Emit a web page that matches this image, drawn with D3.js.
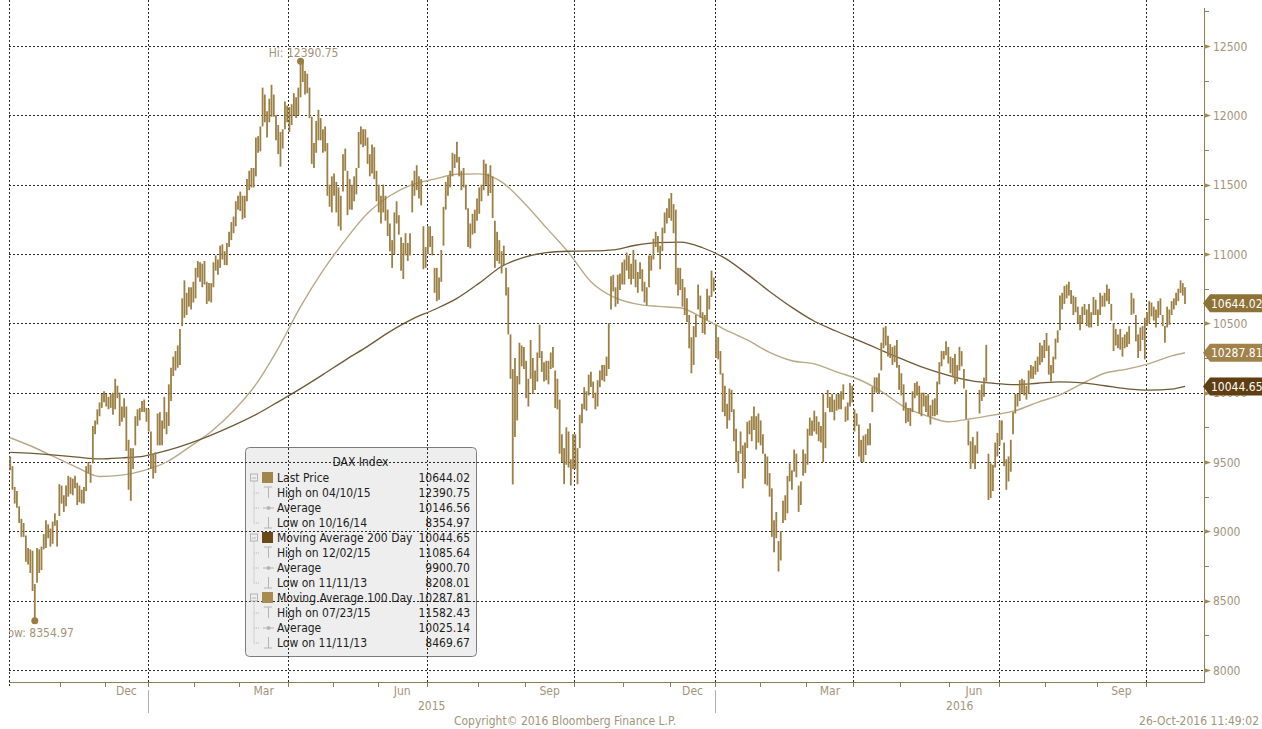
<!DOCTYPE html>
<html><head><meta charset="utf-8">
<script src="https://cdn.jsdelivr.net/npm/d3@7"></script>
<style>
body{margin:0;background:#fff;}
svg{display:block;}
text{font-family:"DejaVu Sans Condensed","DejaVu Sans",sans-serif;}
</style>
</head><body>
<svg id="c" width="1262" height="729"></svg>
<script>
// ---------------- DATA ----------------
const firstDay = "2014-10-01", lastDay = "2016-10-26";
const holidays = ["2014-12-24","2014-12-25","2014-12-26","2014-12-31","2015-01-01","2015-04-03","2015-04-06","2015-05-01","2015-12-24","2015-12-25","2015-12-31","2016-01-01","2016-03-25","2016-03-28"];

// daily [high, low] of DAX Index, one pair per trading day
const dailyRanges = [
// Oct 2014
[9540,9440],[9470,9300],[9320,9200],[9290,9170],[9180,9060],[9090,8960],[9060,8960],[8970,8780],[8880,8760],[8870,8700],[8860,8570],[8620,8354.97],[8880,8630],[8870,8700],[8890,8720],[8980,8870],[9080,8880],[9050,8950],[9020,8890],[9070,8910],[9130,9040],[9080,8890],[9340,9110],
// Nov 2014
[9330,9200],[9260,9140],[9330,9180],[9400,9250],[9390,9270],[9380,9260],[9400,9310],[9350,9190],[9330,9210],[9300,9200],[9320,9200],[9470,9290],[9500,9420],[9480,9350],[9760,9490],[9800,9700],[9880,9770],[9930,9830],[9990,9890],[10010,9930],
// Dec 2014
[9990,9900],[9970,9880],[9990,9890],[10000,9840],[10100,9880],[10050,9960],[10000,9760],[9900,9790],[9960,9820],[9900,9580],[9660,9300],[9600,9220],[9600,9450],[9830,9620],[9880,9760],[9890,9800],[9940,9860],[9950,9860],[9890,9790],
// Jan 2015
[9880,9720],[9720,9450],[9560,9380],[9570,9420],[9850,9620],[9860,9620],[9800,9620],[9970,9740],[9860,9700],[10060,9760],[10180,9940],[10260,10120],[10300,10160],[10340,10180],[10460,10200],[10680,10480],[10810,10540],[10720,10560],[10760,10620],[10760,10600],[10800,10650],
// Feb 2015
[10900,10680],[10950,10830],[10940,10800],[10930,10760],[10950,10780],[10800,10640],[10790,10660],[10790,10650],[10940,10760],[10990,10880],[10960,10850],[11060,10900],[11070,10960],[11020,10920],[11080,10920],[11160,11050],[11230,11100],[11270,11150],[11380,11200],[11420,11320],
// Mar 2015
[11450,11310],[11420,11250],[11420,11260],[11540,11380],[11600,11460],[11620,11480],[11620,11480],[11840,11560],[11850,11730],[11920,11740],[12200,11920],[12150,11950],[12030,11840],[12120,11950],[12220,11990],[12150,11990],[12000,11820],[11930,11720],[11880,11630],[11900,11760],[12100,11900],[12070,11950],
// Apr 2015
[12060,11880],[12080,11930],[12160,12000],[12130,11980],[12200,12000],[12390.75,12130],[12380,12240],[12320,12150],[12300,12160],[12200,11980],[11990,11650],[11800,11620],[11960,11730],[12040,11820],[11980,11820],[11900,11730],[11920,11740],[11800,11420],[11500,11340],[11560,11300],
// May 2015
[11580,11420],[11520,11300],[11480,11200],[11420,11170],[11720,11450],[11760,11600],[11600,11280],[11540,11320],[11500,11320],[11560,11380],[11620,11430],[11880,11620],[11920,11790],[11900,11770],[11900,11780],[11840,11650],[11720,11560],[11790,11580],[11770,11540],[11600,11380],
// Jun 2015
[11500,11300],[11420,11220],[11500,11300],[11420,11240],[11320,11130],[11220,11020],[11100,10900],[11300,11000],[11380,11220],[11280,11140],[11120,10880],[11080,10820],[11150,10990],[11080,10950],[11150,10990],[11530,11300],[11600,11420],[11640,11460],[11560,11400],[11540,11350],[11200,10890],[11050,10900],
// Jul 2015
[11200,11000],[11200,11050],[11130,10990],[10900,10720],[10900,10660],[10830,10670],[11030,10800],[11340,11060],[11520,11320],[11560,11420],[11600,11480],[11730,11560],[11720,11620],[11810,11660],[11700,11560],[11600,11460],[11620,11480],[11500,11320],[11330,11050],[11220,11040],[11290,11140],[11320,11150],[11400,11240],
// Aug 2015
[11480,11290],[11500,11380],[11680,11460],[11650,11500],[11580,11420],[11640,11440],[11560,11260],[11240,10900],[11160,10950],[11100,10930],[11020,10860],[11060,10920],[10900,10700],[10760,10420],[10420,10100],[10170,9338],[10250,9680],[10120,9800],[10360,10060],[10340,10190],[10330,10170],
// Sep 2015
[10230,9960],[10100,9900],[10380,10100],[10250,9990],[10160,10020],[10290,10080],[10490,10250],[10300,10150],[10220,10080],[10230,10090],[10230,10060],[10290,10170],[10330,10180],[10160,9890],[10100,9880],[9950,9560],[9700,9500],[9600,9340],[9750,9480],[9720,9460],[9520,9330],[9700,9450],
// Oct 2015
[9700,9450],[9600,9340],[9840,9600],[9920,9780],[10040,9880],[10010,9870],[10130,9980],[10150,10040],[10080,9960],[10000,9880],[10090,9900],[10160,10040],[10200,10090],[10200,10080],[10260,10120],[10500,10170],[10840,10600],[10850,10730],[10760,10620],[10850,10640],[10860,10740],[10940,10780],
// Nov 2015
[10960,10780],[11010,10880],[10990,10820],[10930,10780],[11030,10820],[10960,10760],[10870,10720],[10940,10820],[10890,10730],[10800,10650],[10760,10630],[10990,10760],[10990,10880],[11110,10960],[11160,11050],[11130,11010],[11060,10890],[11190,11020],[11300,11150],[11330,11220],[11400,11260],
// Dec 2015
[11440,11240],[11360,11150],[11320,10780],[10900,10700],[10900,10740],[10820,10620],[10760,10560],[10680,10510],[10560,10320],[10400,10140],[10480,10200],[10560,10400],[10780,10600],[10700,10540],[10580,10430],[10560,10420],[10750,10520],[10700,10600],[10880,10690],[10830,10730],
// Jan 2016
[10490,10250],[10400,10240],[10300,10130],[10140,9860],[10050,9830],[9920,9740],[10030,9800],[10020,9860],[9880,9650],[9740,9500],[9580,9420],[9720,9560],[9620,9310],[9640,9380],[9790,9600],[9800,9700],[9830,9650],[9900,9730],[9830,9590],[9850,9640],
// Feb 2016
[9800,9620],[9700,9560],[9560,9340],[9540,9330],[9420,9250],[9310,8960],[9080,8850],[9140,8950],[8930,8710],[9000,8790],[9220,9060],[9260,9080],[9400,9130],[9490,9360],[9440,9300],[9590,9430],[9560,9390],[9330,9140],[9360,9190],[9590,9400],[9560,9420],
// Mar 2016
[9740,9480],[9820,9690],[9800,9690],[9870,9720],[9830,9700],[9790,9650],[9760,9640],[9990,9500],[9860,9600],[10020,9890],[9970,9860],[9990,9860],[9950,9800],[9990,9870],[9990,9880],[10010,9880],[10060,9950],[9900,9790],[9930,9800],[10070,9900],[10050,9930],
// Apr 2016
[9880,9720],[9850,9760],[9770,9540],[9660,9500],[9690,9500],[9700,9550],[9740,9620],[9780,9620],[10040,9860],[10110,10000],[10110,10000],[10140,9990],[10360,10160],[10470,10320],[10480,10340],[10410,10260],[10350,10250],[10330,10200],[10340,10220],[10380,10180],[10200,10020],
// May 2016
[10140,9980],[10060,9870],[9930,9780],[9890,9790],[9890,9760],[10010,9860],[10070,9960],[10080,9980],[10050,9850],[10000,9830],[10000,9900],[9980,9860],[9990,9830],[9910,9770],[9950,9830],[9960,9830],[10080,9840],[10220,10060],[10300,10190],[10300,10240],[10370,10270],[10330,10210],
// Jun 2016
[10260,10140],[10250,10110],[10280,10060],[10200,10080],[10330,10160],[10300,10190],[10170,10030],[10020,9810],[9800,9620],[9650,9450],[9680,9490],[9620,9450],[9720,9560],[10020,9850],[10060,9940],[10110,9970],[10345,10080],[9560,9226],[9490,9240],[9480,9290],[9640,9460],[9710,9540],
// Jul 2016
[9800,9620],[9800,9660],[9640,9470],[9520,9300],[9540,9360],[9660,9430],[9860,9700],[9990,9850],[9990,9900],[10090,9940],[10100,10000],[10090,9980],[10050,9950],[10160,9990],[10200,10100],[10190,10100],[10230,10130],[10260,10150],[10360,10200],[10340,10220],[10380,10250],
// Aug 2016
[10430,10300],[10340,10130],[10200,10080],[10260,10140],[10390,10240],[10450,10360],[10700,10450],[10720,10600],[10770,10640],[10780,10680],[10800,10700],[10740,10640],[10700,10560],[10690,10580],[10620,10500],[10560,10450],[10620,10500],[10640,10560],[10600,10480],[10640,10470],[10580,10470],[10690,10560],[10670,10560],
// Sep 2016
[10600,10480],[10720,10560],[10700,10620],[10720,10620],[10780,10660],[10750,10640],[10640,10520],[10500,10300],[10460,10340],[10420,10320],[10460,10310],[10400,10260],[10420,10320],[10440,10330],[10480,10350],[10720,10560],[10680,10570],[10560,10370],[10420,10250],[10470,10300],[10480,10380],[10540,10240],
// Oct 2016
[10580,10480],[10660,10500],[10650,10550],[10620,10520],[10600,10470],[10660,10540],[10680,10560],[10560,10480],[10480,10360],[10620,10470],[10600,10490],[10660,10560],[10680,10600],[10720,10630],[10750,10660],[10810,10720],[10790,10700],[10760,10640]
];

// moving averages read every 10th trading day (plus the last day)
const ma200Every10 = [9570,9562,9550,9535,9522,9530,9543,9582,9633,9694,9764,9842,9934,10029,10130,10235,10334,10440,10530,10600,10680,10790,10910,10975,11010,11020,11022,11030,11063,11082,11085,11045,10970,10855,10730,10615,10515,10443,10376,10306,10238,10175,10125,10087,10068,10058,10068,10078,10070,10050,10028,10018,10025,10044.65];
const ma100Every10 = [9675,9610,9535,9460,9395,9405,9440,9500,9605,9720,9870,10060,10320,10620,10880,11100,11293,11420,11500,11540,11575,11578,11520,11370,11190,11010,10800,10690,10640,10622,10612,10540,10455,10380,10290,10230,10208,10150,10095,10010,9900,9835,9790,9812,9838,9870,9930,9984,10065,10140,10170,10210,10265,10287.81];

const yTicks = [8000,8500,9000,9500,10000,10500,11000,11500,12000,12500];
const yMinorTicks = [8250,8750,9250,9750,10250,10750,11250,11750,12250,12750];
const labelledMonths = ["Dec","Mar","Jun","Sep"];
const lastPrice = 10644.02, lastMA200 = 10044.65, lastMA100 = 10287.81;
const hiValue = 12390.75, loValue = 8354.97;

const legendTitle = "DAX Index";
const legendRows = [
  {kind:"series", label:"Last Price", value:"10644.02", color:"#a2854a"},
  {kind:"high", label:"High on 04/10/15", value:"12390.75"},
  {kind:"avg", label:"Average", value:"10146.56"},
  {kind:"low", label:"Low on 10/16/14", value:"8354.97"},
  {kind:"series", label:"Moving Average 200 Day", value:"10044.65", color:"#6b4916"},
  {kind:"high", label:"High on 12/02/15", value:"11085.64"},
  {kind:"avg", label:"Average", value:"9900.70"},
  {kind:"low", label:"Low on 11/11/13", value:"8208.01"},
  {kind:"series", label:"Moving Average 100 Day", value:"10287.81", color:"#a88b4e"},
  {kind:"high", label:"High on 07/23/15", value:"11582.43"},
  {kind:"avg", label:"Average", value:"10025.14"},
  {kind:"low", label:"Low on 11/11/13", value:"8469.67"}
];
const copyrightText = "Copyright\u00a9 2016 Bloomberg Finance L.P.";
const stampText = "26-Oct-2016 11:49:02";

// ---------------- BUILD ----------------
const hol = new Set(holidays);
const dates = [];
{
  const end = new Date(lastDay + "T00:00:00Z");
  for (let d = new Date(firstDay + "T00:00:00Z"); d <= end; d.setUTCDate(d.getUTCDate() + 1)) {
    const wd = d.getUTCDay();
    if (wd === 0 || wd === 6) continue;
    const s = d.toISOString().slice(0, 10);
    if (hol.has(s)) continue;
    dates.push(new Date(d));
  }
}
const bars = dailyRanges.map((r, i) => ({i, date: dates[i], high: r[0], low: r[1]}));
const nLast = bars.length - 1;
const maIdx = k => Math.min(k * 10, nLast);
const ma200 = ma200Every10.map((v, k) => ({i: maIdx(k), v}));
const ma100 = ma100Every10.map((v, k) => ({i: maIdx(k), v}));

const svg = d3.select("#c");
const plotL = 9, plotR = 1204, plotT = 8, plotB = 682;
const x = d3.scaleLinear().domain([-0.5, 534.5]).range([plotL + 0.1, plotR]);
const y = d3.scaleLinear().domain([8000, 12500]).range([670, 46]);

const axisCol = "#8e7d55", labelCol = "#a39479", barCol = "#9c7f44";

svg.append("defs").append("clipPath").attr("id", "plotclip")
  .append("rect").attr("x", plotL).attr("y", 0).attr("width", plotR - plotL).attr("height", plotB);

// month structure
const months = [];
bars.forEach((b, i) => {
  if (i === 0 || b.date.getUTCMonth() !== bars[i - 1].date.getUTCMonth()) months.push({start: i, end: i, date: b.date});
  else months[months.length - 1].end = i;
});
const fmtMon = d3.utcFormat("%b");

// legend background (gridlines will be seen over it)
const LX = 245, LY = 447, LW = 231, LH = 209;
svg.append("rect").attr("x", LX + 0.5).attr("y", LY + 0.5).attr("width", LW).attr("height", LH)
  .attr("rx", 4).attr("fill", "#eeeeee").attr("stroke", "#7d7d7d").attr("stroke-width", 1);

// grid
const grid = svg.append("g");
grid.selectAll("line.h").data(yTicks).join("line")
  .attr("x1", plotL).attr("x2", plotR)
  .attr("y1", d => Math.round(y(d)) + 0.5).attr("y2", d => Math.round(y(d)) + 0.5)
  .attr("stroke", "#2a2a2a").attr("stroke-width", 1).attr("stroke-dasharray", "2,2");
const quarterStarts = months.filter(m => m.date.getUTCMonth() % 3 === 0);
grid.selectAll("line.v").data(quarterStarts).join("line")
  .attr("x1", d => Math.round(x(d.start - 0.5)) + 0.5).attr("x2", d => Math.round(x(d.start - 0.5)) + 0.5)
  .attr("y1", 0).attr("y2", plotB + 6)
  .attr("stroke", "#2a2a2a").attr("stroke-width", 1).attr("stroke-dasharray", "2,2");

// plot content
const plot = svg.append("g").attr("clip-path", "url(#plotclip)");
const line = d3.line().x(d => x(d.i)).y(d => y(d.v)).curve(d3.curveMonotoneX);
plot.append("path").datum(ma100).attr("d", line).attr("fill", "none").attr("stroke", "#b9a988").attr("stroke-width", 1.4);
plot.append("path").datum(ma200).attr("d", line).attr("fill", "none").attr("stroke", "#6e5a37").attr("stroke-width", 1.3);
plot.selectAll("line.bar").data(bars).join("line")
  .attr("x1", d => x(d.i)).attr("x2", d => x(d.i))
  .attr("y1", d => y(d.high)).attr("y2", d => y(d.low))
  .attr("stroke", barCol).attr("stroke-width", 1.8);

// hi / low markers
const hiBar = bars.reduce((a, b) => b.high > a.high ? b : a);
const loBar = bars.reduce((a, b) => b.low < a.low ? b : a);
plot.append("circle").attr("cx", x(hiBar.i)).attr("cy", y(hiValue)).attr("r", 3.5).attr("fill", "#9a7c42");
plot.append("circle").attr("cx", x(loBar.i)).attr("cy", y(loValue)).attr("r", 3.5).attr("fill", "#9a7c42");
plot.append("text").attr("x", x(hiBar.i) + 3).attr("y", y(hiValue) - 4).attr("text-anchor", "middle")
  .attr("font-size", 12).attr("fill", labelCol).text("Hi: " + d3.format(".2f")(hiValue));
plot.append("text").attr("x", x(loBar.i) + 3).attr("y", y(loValue) + 16).attr("text-anchor", "middle")
  .attr("font-size", 12).attr("fill", labelCol).text("Low: " + d3.format(".2f")(loValue));

// bottom axis
const bx = svg.append("g");
bx.append("line").attr("x1", plotL).attr("x2", plotR).attr("y1", plotB + 0.5).attr("y2", plotB + 0.5).attr("stroke", axisCol);
bx.selectAll("line.mt").data(months.filter(m => m.start > 0)).join("line")
  .attr("x1", d => Math.round(x(d.start - 0.5)) + 0.5).attr("x2", d => Math.round(x(d.start - 0.5)) + 0.5)
  .attr("y1", plotB).attr("y2", plotB + 5).attr("stroke", axisCol);
bx.selectAll("text.m").data(months.filter(m => labelledMonths.includes(fmtMon(m.date)))).join("text")
  .attr("x", d => x((d.start + d.end) / 2)).attr("y", 695).attr("text-anchor", "middle")
  .attr("font-size", 12).attr("fill", labelCol).text(d => fmtMon(d.date));
const yearStarts = months.filter(m => m.date.getUTCMonth() === 0);
yearStarts.forEach((m, k) => {
  const xs = Math.round(x(m.start - 0.5)) + 0.5;
  const xe = k + 1 < yearStarts.length ? x(yearStarts[k + 1].start - 0.5) : plotR;
  bx.append("line").attr("x1", xs).attr("x2", xs).attr("y1", 690).attr("y2", 713).attr("stroke", "#b0b0b0");
  bx.append("text").attr("x", (xs + xe) / 2).attr("y", 710).attr("text-anchor", "middle")
    .attr("font-size", 12).attr("fill", labelCol).text(m.date.getUTCFullYear());
});

// right axis
const ry = svg.append("g");
ry.append("line").attr("x1", plotR + 0.5).attr("x2", plotR + 0.5).attr("y1", plotT).attr("y2", plotB + 1).attr("stroke", axisCol);
ry.selectAll("line.mn").data(yMinorTicks).join("line")
  .attr("x1", plotR).attr("x2", plotR + 5)
  .attr("y1", d => Math.round(y(d)) + 0.5).attr("y2", d => Math.round(y(d)) + 0.5).attr("stroke", axisCol);
ry.selectAll("path.mj").data(yTicks).join("path")
  .attr("d", d => { const yy = Math.round(y(d)) + 0.5; return `M${plotR},${yy - 2.5}L${plotR + 7},${yy}L${plotR},${yy + 2.5}Z`; })
  .attr("fill", "#a38b58");
ry.selectAll("text").data(yTicks).join("text")
  .attr("x", plotR + 9).attr("y", d => y(d) + 4.5).attr("font-size", 12).attr("fill", labelCol).text(d => d);

// last value tags
const tags = [
  {v: lastPrice, fill: "#8e7236"},
  {v: lastMA100, fill: "#a0824a"},
  {v: lastMA200, fill: "#5f3e12"}
];
tags.forEach(t => {
  const yy = y(t.v);
  svg.append("path").attr("d", `M${plotR - 1},${yy}L${plotR + 6},${yy - 9}L1262,${yy - 9}L1262,${yy + 9}L${plotR + 6},${yy + 9}Z`)
    .attr("fill", t.fill);
  svg.append("text").attr("x", plotR + 7).attr("y", yy + 4.5).attr("font-size", 12).attr("fill", "#ffffff")
    .text(d3.format(".2f")(t.v));
});

// legend content
const lg = svg.append("g");
lg.append("text").attr("x", LX + LW / 2).attr("y", 466).attr("text-anchor", "middle").attr("font-size", 12)
  .attr("fill", "#1d1d1d").text(legendTitle);
const treeCol = "#b4b4b4";
legendRows.forEach((r, k) => {
  const cy = 477.5 + 15 * k;
  if (r.kind === "series") {
    // tree node box
    lg.append("rect").attr("x", 250.5).attr("y", cy - 3.5).attr("width", 7).attr("height", 7).attr("fill", "none").attr("stroke", treeCol);
    lg.append("line").attr("x1", 252).attr("x2", 256).attr("y1", cy + 0.5).attr("y2", cy + 0.5).attr("stroke", treeCol);
    lg.append("line").attr("x1", 254).attr("x2", 254).attr("y1", cy + 4).attr("y2", cy + 45).attr("stroke", treeCol).attr("stroke-dasharray", "1,1");
    lg.append("rect").attr("x", 262).attr("y", cy - 5.5).attr("width", 11).attr("height", 11).attr("fill", r.color);
  } else {
    lg.append("line").attr("x1", 254).attr("x2", 260).attr("y1", cy + 0.5).attr("y2", cy + 0.5).attr("stroke", treeCol).attr("stroke-dasharray", "1,1");
    const ic = lg.append("g").attr("stroke", treeCol).attr("fill", "none");
    if (r.kind === "high") {
      ic.append("line").attr("x1", 264).attr("x2", 272).attr("y1", cy - 5.5).attr("y2", cy - 5.5);
      ic.append("line").attr("x1", 268.5).attr("x2", 268.5).attr("y1", cy - 5.5).attr("y2", cy + 5.5);
    } else if (r.kind === "avg") {
      ic.append("line").attr("x1", 263).attr("x2", 274).attr("y1", cy + 0.5).attr("y2", cy + 0.5);
      ic.append("circle").attr("cx", 268.5).attr("cy", cy + 0.5).attr("r", 1.5).attr("fill", treeCol);
    } else {
      ic.append("line").attr("x1", 264).attr("x2", 272).attr("y1", cy + 5.5).attr("y2", cy + 5.5);
      ic.append("line").attr("x1", 268.5).attr("x2", 268.5).attr("y1", cy - 5.5).attr("y2", cy + 5.5);
    }
  }
  lg.append("text").attr("x", 277).attr("y", cy + 4.5).attr("font-size", 12).attr("fill", "#1d1d1d").text(r.label);
  lg.append("text").attr("x", 470).attr("y", cy + 4.5).attr("font-size", 12).attr("text-anchor", "end").attr("fill", "#1d1d1d").text(r.value);
});

// footer
svg.append("text").attr("x", 565).attr("y", 725).attr("text-anchor", "middle").attr("font-size", 12).attr("fill", labelCol).text(copyrightText);
svg.append("text").attr("x", 1259).attr("y", 725).attr("text-anchor", "end").attr("font-size", 12).attr("fill", labelCol).text(stampText);
</script>
</body></html>
